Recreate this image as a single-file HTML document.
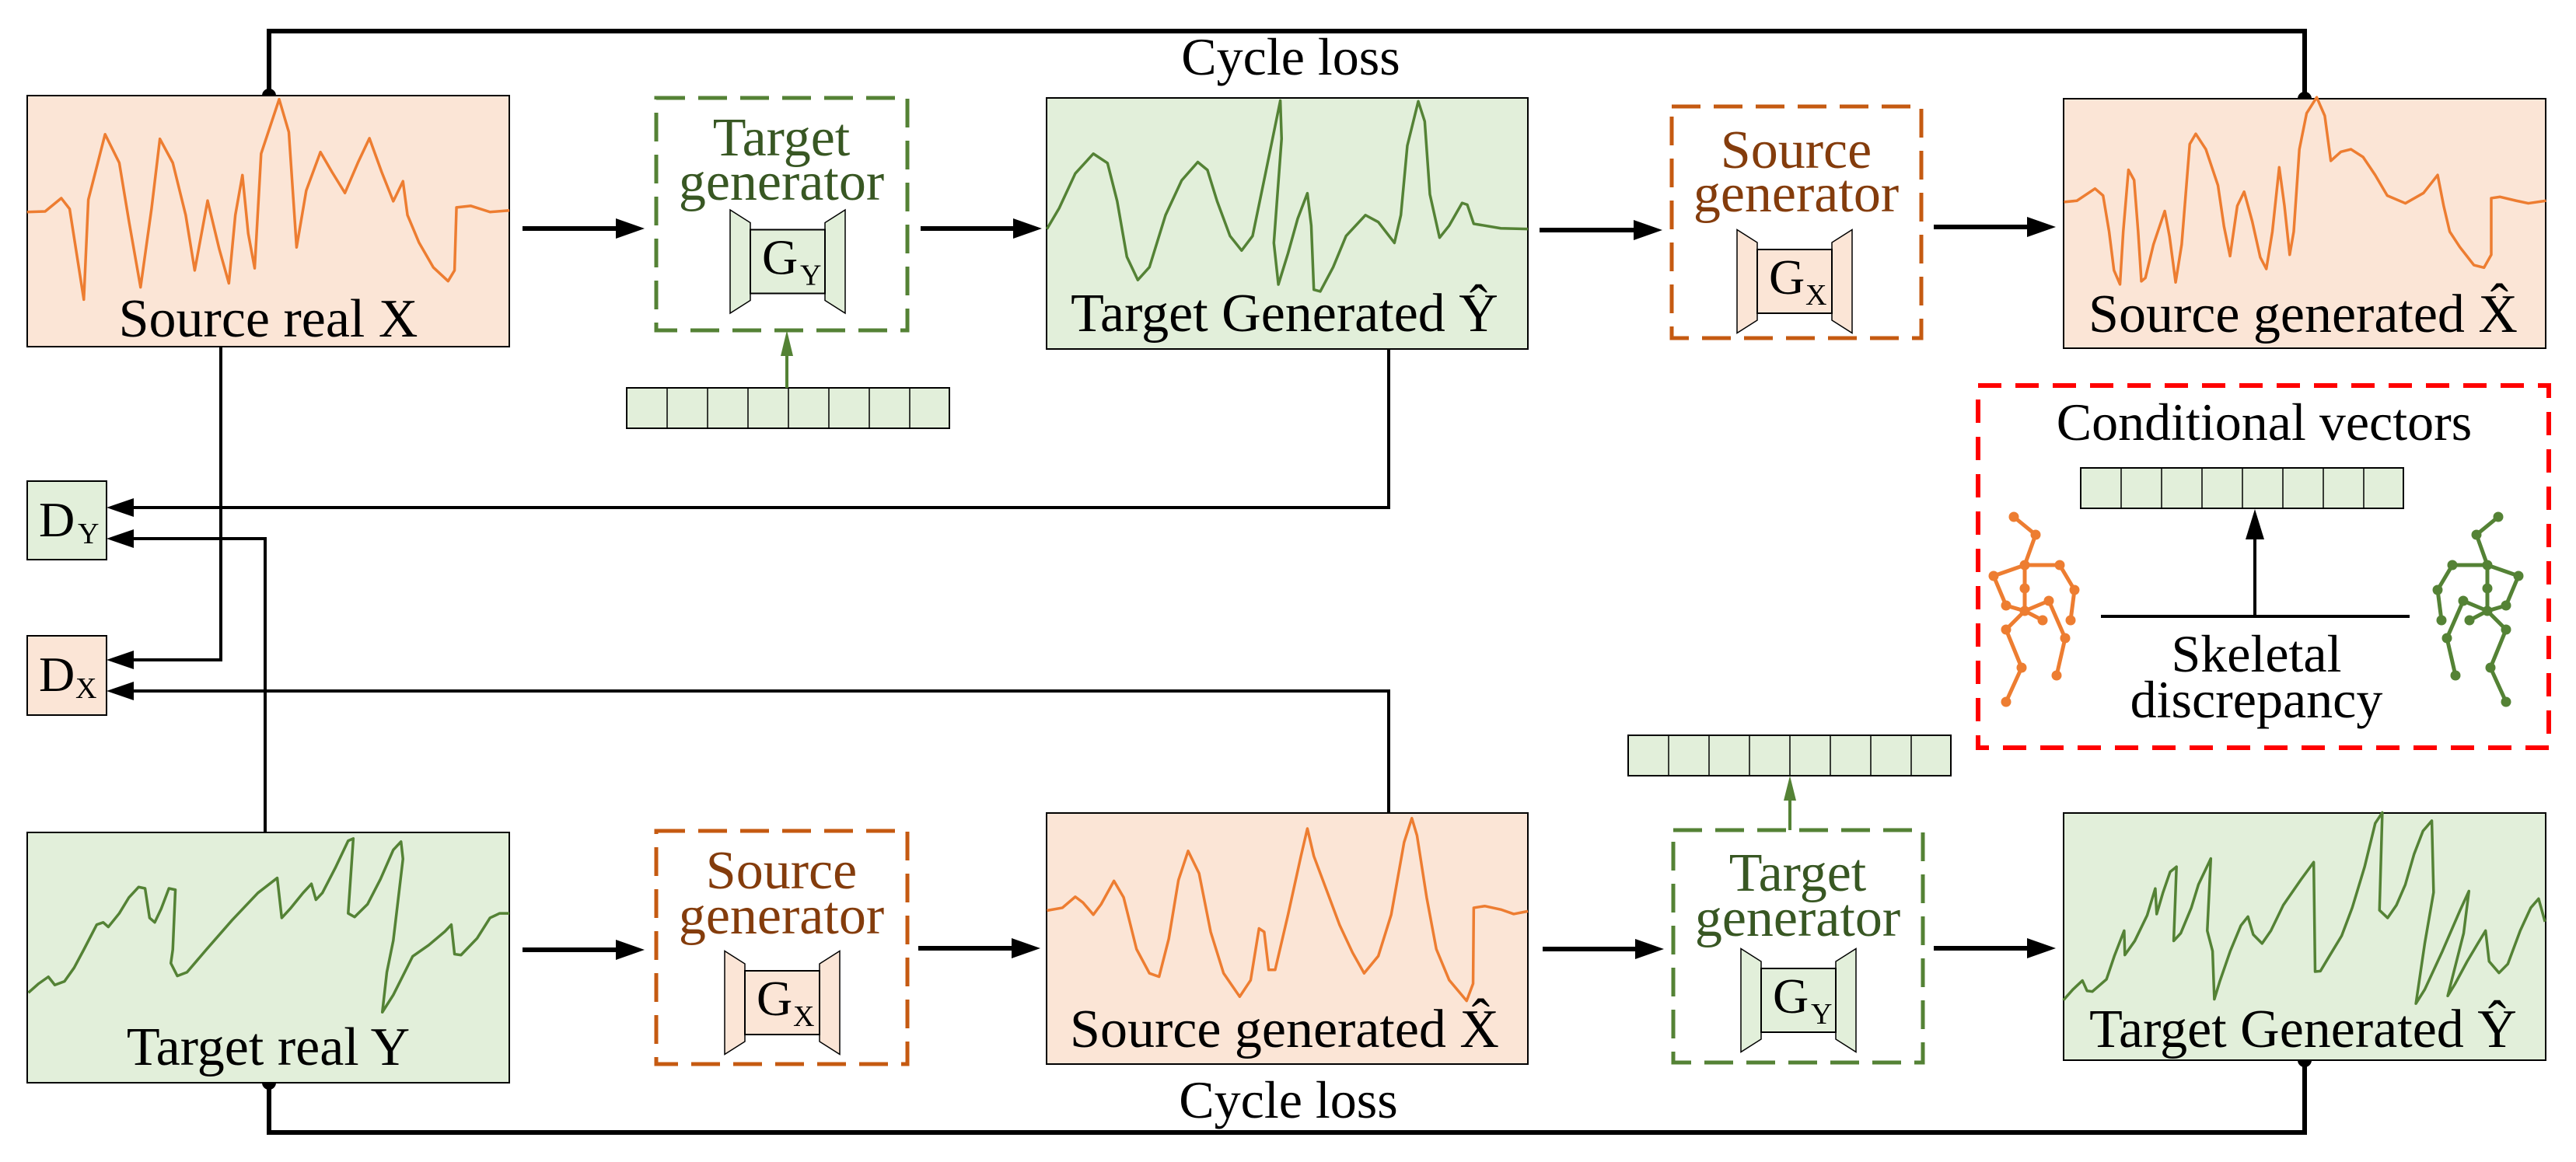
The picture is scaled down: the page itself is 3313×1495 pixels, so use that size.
<!DOCTYPE html>
<html><head><meta charset="utf-8"><style>
html,body{margin:0;padding:0;background:#fff}
svg{display:block}
svg, text{font-family:"Liberation Serif","DejaVu Serif",serif}
</style></head><body>
<svg width="3313" height="1495" viewBox="0 0 3313 1495" xmlns="http://www.w3.org/2000/svg" font-family="'Liberation Serif', 'DejaVu Serif', serif">
<defs>
<g id="gen">
  <polygon points="-74,-66.5 -48,-50 -48,50 -74,66.5" fill="var(--f)" stroke="#000" stroke-width="1.5"/>
  <polygon points="74,-66.5 48,-50 48,50 74,66.5" fill="var(--f)" stroke="#000" stroke-width="1.5"/>
  <rect x="-48" y="-41" width="96" height="82" fill="var(--f)" stroke="#000" stroke-width="2"/>
</g>
<g id="bar">
  <rect x="0" y="0" width="415" height="52" fill="#e2efda" stroke="#000" stroke-width="2"/>
  <path d="M52,0V52M104,0V52M156,0V52M208,0V52M260,0V52M312,0V52M364,0V52" stroke="#000" stroke-width="1.5"/>
</g>
<g id="skel">
  <g stroke-width="5" fill="none">
  <path d="M2590,665L2618,688L2604,727L2649,727L2668,759L2663,798M2604,727L2564,741L2580,779L2604,786M2604,727L2604,757L2604,786L2627,798M2604,786L2635,773L2656,821L2645,869M2604,786L2580,810L2600,859L2580,903"/>
  </g>
  <g stroke="none">
  <circle cx="2590" cy="665" r="6.5"/><circle cx="2618" cy="688" r="6.5"/><circle cx="2604" cy="727" r="6.5"/><circle cx="2649" cy="727" r="6.5"/><circle cx="2668" cy="759" r="6.5"/><circle cx="2663" cy="798" r="6.5"/><circle cx="2564" cy="741" r="6.5"/><circle cx="2580" cy="779" r="6.5"/><circle cx="2604" cy="757" r="6.5"/><circle cx="2604" cy="786" r="6.5"/><circle cx="2627" cy="798" r="6.5"/><circle cx="2635" cy="773" r="6.5"/><circle cx="2656" cy="821" r="6.5"/><circle cx="2645" cy="869" r="6.5"/><circle cx="2580" cy="810" r="6.5"/><circle cx="2600" cy="859" r="6.5"/><circle cx="2580" cy="903" r="6.5"/>
  </g>
</g>
</defs>

<polyline points="346,123 346,40 2964,40 2964,127" fill="none" stroke="#000" stroke-width="6"/>
<polyline points="346,1393 346,1457 2964,1457 2964,1364" fill="none" stroke="#000" stroke-width="6"/>
<path d="M337,123 A9,9 0 0 1 355,123Z M2955,127 A9,9 0 0 1 2973,127Z" fill="#000"/>
<path d="M337,1393 A9,9 0 0 0 355,1393Z M2955,1364 A9,9 0 0 0 2973,1364Z" fill="#000"/>
<text x="1660" y="96" font-size="68" text-anchor="middle">Cycle loss</text>
<text x="1657" y="1438" font-size="68" text-anchor="middle">Cycle loss</text>

<g fill="none" stroke="#000" stroke-width="4">
<polyline points="284,446 284,849 170,849"/>
<polyline points="341,1071 341,693 170,693"/>
<polyline points="1786,449 1786,653 170,653"/>
<polyline points="1786,1046 1786,889 170,889"/>
</g>
<g fill="#000">
<polygon points="137,653 172,641 172,665"/>
<polygon points="137,693 172,681 172,705"/>
<polygon points="137,849 172,837 172,861"/>
<polygon points="137,889 172,877 172,901"/>
</g>

<rect x="35" y="619" width="102" height="101" fill="#e2efda" stroke="#000" stroke-width="2"/>
<rect x="35" y="818" width="102" height="102" fill="#fbe5d6" stroke="#000" stroke-width="2"/>
<text x="50" y="690" font-size="64">D</text><text x="100" y="699" font-size="38">Y</text>
<text x="50" y="889" font-size="64">D</text><text x="97" y="898" font-size="38">X</text>

<rect x="35" y="123" width="620" height="323" fill="#fbe5d6" stroke="#000" stroke-width="2"/>
<rect x="1346" y="126" width="619" height="323" fill="#e2efda" stroke="#000" stroke-width="2"/>
<rect x="2654" y="127" width="620" height="321" fill="#fbe5d6" stroke="#000" stroke-width="2"/>
<rect x="35" y="1071" width="620" height="322" fill="#e2efda" stroke="#000" stroke-width="2"/>
<rect x="1346" y="1046" width="619" height="323" fill="#fbe5d6" stroke="#000" stroke-width="2"/>
<rect x="2654" y="1046" width="620" height="318" fill="#e2efda" stroke="#000" stroke-width="2"/>

<g fill="none" stroke-width="3.5" stroke-linejoin="round">
<g transform="translate(0,0) scale(0.8292,0.3953)"><polyline vector-effect="non-scaling-stroke" stroke="#ed7d31" points="42,690 70,688 95,645 108,680 130,975 137,650 163,437 185,530 200,720 218,935 235,680 248,452 268,530 288,700 302,880 322,653 340,810 355,922 365,700 376,570 385,760 395,873 405,500 433,323 448,430 460,805 475,620 497,495 515,560 535,628 555,530 573,450 592,560 610,655 625,590 632,700 650,790 672,870 695,915 705,880 708,675 730,670 760,690 790,685"/></g>
<g transform="translate(1300,0) scale(0.8292,0.4464)"><polyline vector-effect="non-scaling-stroke" stroke="#548235" points="56,660 75,600 100,500 128,443 150,470 165,580 180,740 197,807 215,770 240,620 265,520 290,467 305,490 320,580 340,680 358,722 375,680 395,500 418,290 420,400 408,700 415,820 430,730 445,630 460,557 466,650 470,835 480,840 500,770 520,680 550,620 570,640 595,700 605,620 615,420 632,292 642,350 650,560 665,685 680,650 700,585 708,590 718,645 760,658 802,660"/></g>
<g transform="translate(2500,0) scale(0.5184,0.3311)"><polyline vector-effect="non-scaling-stroke" stroke="#ed7d31" points="298,785 330,780 375,733 395,760 410,900 422,1050 437,1105 445,900 458,660 472,700 482,900 490,1093 500,1080 520,950 548,820 560,920 575,1097 590,950 610,560 625,520 650,580 680,720 695,880 710,995 728,800 745,745 765,860 785,1000 800,1045 815,900 832,650 845,800 858,990 868,900 882,580 900,440 925,378 945,450 960,625 985,590 1010,580 1040,610 1070,680 1100,760 1145,790 1190,750 1225,680 1240,800 1255,900 1280,960 1315,1030 1340,1040 1358,990 1358,770 1380,765 1420,780 1450,790 1494,780"/></g>
<g transform="translate(0,580) scale(0.8292,0.5834)"><polyline vector-effect="non-scaling-stroke" stroke="#548235" points="44,1195 60,1175 75,1160 85,1178 100,1170 115,1140 130,1100 150,1045 160,1040 168,1050 185,1020 200,985 215,962 225,965 232,1030 240,1040 250,1010 262,965 272,968 268,1100 265,1130 275,1158 290,1150 320,1100 360,1035 400,975 430,942 437,1030 450,1010 470,975 483,955 490,990 500,975 520,920 540,860 548,855 540,1020 550,1028 570,1000 590,945 610,880 622,862 625,900 610,1080 600,1150 593,1238 610,1200 640,1115 665,1090 690,1060 700,1045 705,1110 715,1112 740,1075 760,1030 775,1020 790,1020"/></g>
<g transform="translate(1300,800) scale(0.8292,0.4433)"><polyline vector-effect="non-scaling-stroke" stroke="#ed7d31" points="56,838 80,830 100,798 112,815 128,850 140,820 160,752 175,800 195,950 215,1020 230,1030 245,920 260,750 275,665 292,730 310,900 330,1020 355,1088 372,1040 385,890 393,900 400,1010 410,1010 430,850 450,680 460,600 470,680 490,780 510,880 530,960 548,1020 570,970 590,850 610,640 622,570 630,620 645,800 660,950 680,1040 707,1100 717,1050 718,830 735,825 760,835 780,848 802,840"/></g>
<g transform="translate(2600,1000) scale(0.4548,0.329)"><polyline vector-effect="non-scaling-stroke" stroke="#548235" points="118,872 145,830 172,795 185,835 200,838 240,790 262,700 290,600 292,695 320,640 355,540 378,435 382,535 400,450 420,370 438,350 430,640 450,610 480,510 500,420 535,318 525,600 540,680 545,868 560,800 590,680 620,580 640,545 655,615 680,650 705,600 740,500 790,400 826,332 830,760 845,758 870,700 905,620 935,510 970,350 1000,180 1020,138 1012,520 1035,550 1060,500 1085,420 1110,300 1135,210 1160,170 1165,450 1140,650 1115,885 1140,830 1190,680 1240,520 1265,445 1250,610 1205,855 1225,810 1260,720 1290,650 1312,600 1322,720 1350,765 1375,730 1410,600 1440,510 1462,475 1480,565"/></g>
</g>

<g font-size="70" text-anchor="middle">
<text x="345" y="433">Source real  X</text>
<text x="1652" y="426">Target Generated Ŷ</text>
<text x="2962" y="427">Source generated X̂</text>
<text x="345" y="1370">Target real Y</text>
<text x="1652" y="1347">Source generated X̂</text>
<text x="2962" y="1347">Target Generated Ŷ</text>
</g>

<g fill="none" stroke-width="5" stroke-dasharray="37,17">
<rect x="844" y="126" width="323" height="299" stroke="#548235"/>
<rect x="2150" y="137" width="321" height="298" stroke="#c55a11"/>
<rect x="844" y="1069" width="323" height="300" stroke="#c55a11"/>
<rect x="2152" y="1068" width="321" height="299" stroke="#548235"/>
</g>
<g font-size="70" text-anchor="middle">
<text x="1005" y="200" fill="#385723">Target</text>
<text x="1005" y="257" fill="#385723">generator</text>
<text x="2310" y="216" fill="#843c0c">Source</text>
<text x="2310" y="272" fill="#843c0c">generator</text>
<text x="1005" y="1143" fill="#843c0c">Source</text>
<text x="1005" y="1201" fill="#843c0c">generator</text>
<text x="2312" y="1146" fill="#385723">Target</text>
<text x="2312" y="1204" fill="#385723">generator</text>
</g>

<g transform="translate(1013,336.5)" style="--f:#e2efda"><use href="#gen"/><text x="-33" y="16" font-size="64">G</text><text x="16" y="30" font-size="38">Y</text></g>
<g transform="translate(2308,362)" style="--f:#fbe5d6"><use href="#gen"/><text x="-33" y="16" font-size="64">G</text><text x="14" y="30" font-size="38">X</text></g>
<g transform="translate(1006,1290)" style="--f:#fbe5d6"><use href="#gen"/><text x="-33" y="16" font-size="64">G</text><text x="14" y="30" font-size="38">X</text></g>
<g transform="translate(2313,1287)" style="--f:#e2efda"><use href="#gen"/><text x="-33" y="16" font-size="64">G</text><text x="16" y="30" font-size="38">Y</text></g>

<g stroke="#000" stroke-width="6">
<line x1="672" y1="294" x2="800" y2="294"/>
<line x1="1184" y1="294" x2="1310" y2="294"/>
<line x1="1980" y1="296" x2="2108" y2="296"/>
<line x1="2487" y1="292" x2="2612" y2="292"/>
<line x1="672" y1="1222" x2="800" y2="1222"/>
<line x1="1181" y1="1220" x2="1308" y2="1220"/>
<line x1="1984" y1="1221" x2="2110" y2="1221"/>
<line x1="2487" y1="1220" x2="2612" y2="1220"/>
</g>
<g fill="#000">
<polygon points="829,294 792,281 792,307"/>
<polygon points="1340,294 1303,281 1303,307"/>
<polygon points="2138,296 2101,283 2101,309"/>
<polygon points="2644,292 2607,279 2607,305"/>
<polygon points="829,1222 792,1209 792,1235"/>
<polygon points="1338,1220 1301,1207 1301,1233"/>
<polygon points="2140,1221 2103,1208 2103,1234"/>
<polygon points="2644,1220 2607,1207 2607,1233"/>
</g>

<use href="#bar" x="806" y="499"/>
<use href="#bar" x="2094" y="946"/>
<line x1="1012" y1="499" x2="1012" y2="455" stroke="#548235" stroke-width="4"/>
<polygon points="1012,425 1004,458 1020,458" fill="#548235"/>
<line x1="2302" y1="1068" x2="2302" y2="1025" stroke="#548235" stroke-width="4"/>
<polygon points="2302,998 2294,1030 2310,1030" fill="#548235"/>

<rect x="2544" y="496" width="734" height="466" fill="none" stroke="#ff0000" stroke-width="6" stroke-dasharray="30,18"/>
<text x="2912" y="566" font-size="68" text-anchor="middle">Conditional vectors</text>
<use href="#bar" x="2676" y="602"/>
<line x1="2702" y1="793" x2="3099" y2="793" stroke="#000" stroke-width="4"/>
<line x1="2900" y1="793" x2="2900" y2="685" stroke="#000" stroke-width="4"/>
<polygon points="2900,655 2888,694 2912,694" fill="#000"/>
<text x="2902" y="864" font-size="68" text-anchor="middle">Skeletal</text>
<text x="2902" y="923" font-size="68" text-anchor="middle">discrepancy</text>
<g stroke="#ed7d31" fill="#ed7d31"><use href="#skel"/></g>
<g stroke="#548235" fill="#548235" transform="translate(5803,0) scale(-1,1)"><use href="#skel"/></g>
</svg>
</body></html>
